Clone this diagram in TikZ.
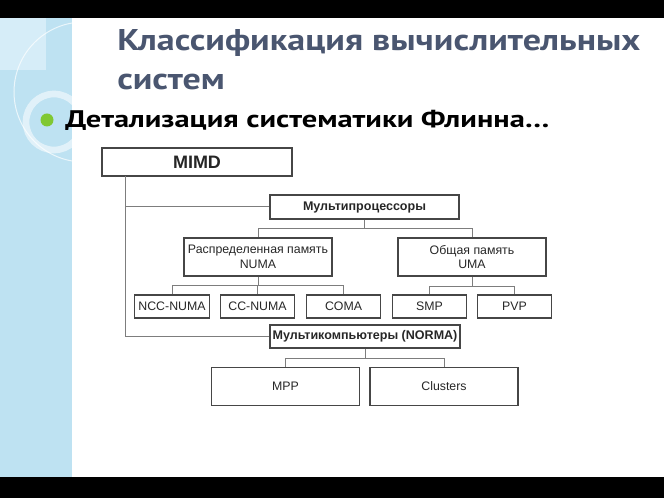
\documentclass[tikz,border=0pt]{standalone}
\usepackage{fontspec}
\setmainfont{Liberation Sans}
\newfontfamily\headfont{PT Sans}[FakeStretch=1.2]
\newfontfamily\subheadfont{PT Sans}[FakeStretch=1.27]
\usepackage{tikz}

\definecolor{stripeblue}{RGB}{190,226,242}
\definecolor{stripelight}{RGB}{214,237,248}
\definecolor{headblue}{RGB}{74,86,112}
\definecolor{bulletgreen}{RGB}{128,200,50}
\definecolor{boxgray}{RGB}{70,70,70}
\definecolor{linegray}{RGB}{125,125,125}

\tikzset{
    box/.style={draw=boxgray, line width=0.9pt, inner sep=0.75pt, align=center, text=black!85, font=\fontsize{9.25}{11}\selectfont},
    head/.style={box, minimum width=141.75pt, minimum height=18pt, font=\bfseries\fontsize{9.4}{11}\selectfont},
    mem/.style={box, minimum width=111pt, minimum height=28.5pt},
    leaf/.style={box, minimum width=56pt, minimum height=17.25pt},
    link/.style={draw=linegray, line width=0.75pt},
}

\begin{document}
\begin{tikzpicture}[x=0.75pt,y=0.75pt,yscale=-1,xscale=1]
    \useasboundingbox (0,0) rectangle (664,498);

        % slide frame
        \fill[black] (0,0) rectangle (664,18);
        \fill[black] (0,477) rectangle (664,498);
        \fill[stripeblue] (0,18) rectangle (72,477);
        \fill[stripelight] (0,18) rectangle (46,70);
        \begin{scope}
            \clip (0,18) rectangle (72,477);
            \draw[white, opacity=0.7, line width=0.75pt] (84,92) circle (70);
            \draw[white, opacity=0.55, line width=5pt] (54,122) circle (28);
        \end{scope}
        \fill[bulletgreen] (47,120) circle (6.5);

        \node[anchor=base west, inner sep=0pt, text=headblue, font=\headfont\bfseries\fontsize{22.5}{27}\selectfont] (title) at (117,51) {Классификация вычислительных};
        \node[anchor=base west, inner sep=0pt, text=headblue, font=\headfont\bfseries\fontsize{22.5}{27}\selectfont] (title2) at (117,90) {систем};
        \node[anchor=base west, inner sep=0pt, font=\subheadfont\bfseries\fontsize{18}{21}\selectfont] (subtitle) at (65,128) {Детализация систематики Флинна…};

        % boxes
        \node[box, minimum width=142.5pt, minimum height=21pt, font=\bfseries\fontsize{13.5}{16}\selectfont] (mimd) at (197,162) {MIMD};
        \node[head] (mproc) at (364.5,207) {Мультипроцессоры};
        \node[mem] (numa) at (258,257) {Распределенная память\\NUMA};
        \node[mem] (uma) at (472,257) {Общая память\\UMA};
        \node[leaf] (ncc) at (172,306.5) {NCC-NUMA};
        \node[leaf] (ccnuma) at (257.5,306.5) {CC-NUMA};
        \node[leaf] (coma) at (343.5,306.5) {COMA};
        \node[leaf] (smp) at (429.5,306.5) {SMP};
        \node[leaf] (pvp) at (514.5,306.5) {PVP};
        \node[head, minimum width=142.5pt, minimum height=17.25pt] (norma) at (365,336.5) {Мультикомпьютеры (NORMA)};
        \node[mem] (mpp) at (285.5,386.5) {MPP};
        \node[mem] (clusters) at (444,386.5) {Clusters};

        % connectors
        \coordinate (trunk) at (125,176);
        \draw[link] (trunk) |- (norma.west);
        \draw[link] (trunk |- mproc.west) -- (mproc.west);
        \draw[link] (mproc.south) -- ++(0,9) coordinate (mprocbus);
        \draw[link] (mprocbus) -| (numa.north);
        \draw[link] (mprocbus) -| (uma.north);
        \draw[link] (numa.south) -- ++(0,9) coordinate (numabus);
        \foreach \n in {ncc,ccnuma,coma} \draw[link] (numabus) -| (\n.north);
        \draw[link] (uma.south) -- ++(0,10) coordinate (umabus);
        \foreach \n in {smp,pvp} \draw[link] (umabus) -| (\n.north);
        \draw[link] (norma.south) -- ++(0,10) coordinate (normabus);
        \foreach \n in {mpp,clusters} \draw[link] (normabus) -| (\n.north);

    \end{tikzpicture}
\end{document}
